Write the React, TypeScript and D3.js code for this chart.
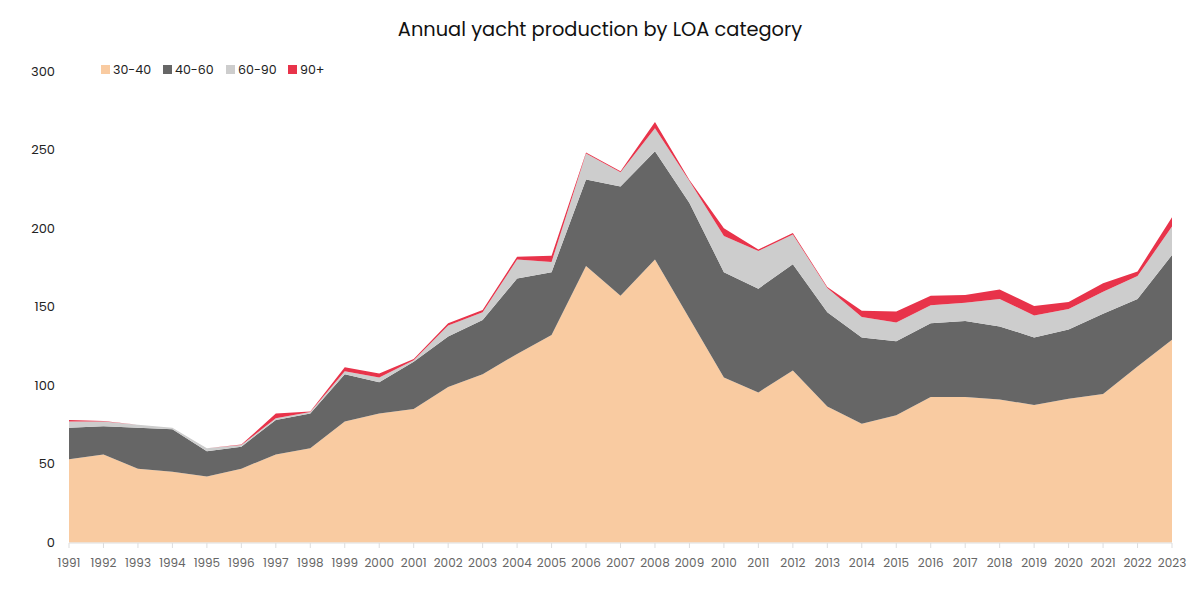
import React from "react";
import * as d3 from "d3";

const years = [1991,1992,1993,1994,1995,1996,1997,1998,1999,2000,2001,2002,2003,2004,2005,2006,2007,2008,2009,2010,2011,2012,2013,2014,2015,2016,2017,2018,2019,2020,2021,2022,2023];
const s30_40 = [53,56,47,45,42,47,56,60,77,82,85,99,107,120,132,176,157,180,142.5,105,95.5,109.5,86.5,75.5,81,92.5,92.5,91,87.5,91.5,94.5,112,129];
const s40_60 = [20,18,26,27,16,14,22,22,30,20,30,32,34.5,48,40,55,69.5,69,73.5,67,66,67.5,60,55,47,47,48.5,46.5,43,44,51,43,54];
const s60_90 = [4,3,2,1,2,1,1,1,2,3,1,7,5,12,6.5,16.5,9,14.5,14,23,24,19,15.5,13,12,11.5,11.5,17.5,14,13,14,14.5,18];
const s90p = [1,0.3,0,0,0,0.3,3,0.3,2.5,2.5,0.7,1.5,1.5,1.8,4,0.6,0.7,4,0.6,5,1,1,0.5,4,7,6,5,6,6,4.5,5.5,3,6];
const seriesNames = ["30-40","40-60","60-90","90+"];
const colors = ["#F9CBA1","#666666","#CDCDCD","#E8334A"];
const yTicks = [0,50,100,150,200,250,300];

const FONT = "Poppins, 'Open Sans', sans-serif";

export default function App() {
  const W = 1200, H = 599;
  const x = d3.scaleLinear().domain([1991, 2023]).range([69, 1172]);
  const y = d3.scaleLinear().domain([0, 300]).range([542.5, 71]);
  const rows = years.map((yr, i) => ({ year: yr, "30-40": s30_40[i], "40-60": s40_60[i], "60-90": s60_90[i], "90+": s90p[i] }));
  const stack = d3.stack<any>().keys(seriesNames);
  const layers = stack(rows);
  const area = d3.area<any>().x((d: any) => x(d.data.year)).y0((d: any) => y(d[0])).y1((d: any) => y(d[1]));

  return (
    <svg width={W} height={H} style={{ position: "absolute", left: 0, top: 0, background: "#fff" }} fontFamily={FONT}>
      <text x={600} y={36} textAnchor="middle" fontSize={19.4} fill="#111">Annual yacht production by LOA category</text>
      {layers.map((l, i) => (
        <path key={i} d={area(l) || ""} fill={colors[i]} />
      ))}
      {yTicks.map((t) => (
        <text key={t} x={55} y={y(t)} dy="0.35em" textAnchor="end" fontSize={13} fill="#222">{t}</text>
      ))}
      <line x1={69} x2={1172} y1={543} y2={543} stroke="#ddd" />
      {years.map((yr) => (
        <g key={yr}>
          <line x1={x(yr)} x2={x(yr)} y1={543} y2={548} stroke="#ddd" />
          <text x={x(yr)} y={567} textAnchor="middle" fontSize={12} fill="#666">{yr}</text>
        </g>
      ))}
      {seriesNames.map((n, i) => {
        const lx = [101, 163, 226, 288][i];
        return (
          <g key={n}>
            <rect x={lx} y={65} width={9} height={9} fill={colors[i]} />
            <text x={lx + 12} y={69.5} dy="0.35em" fontSize={12.6} fill="#222">{n}</text>
          </g>
        );
      })}
    </svg>
  );
}
